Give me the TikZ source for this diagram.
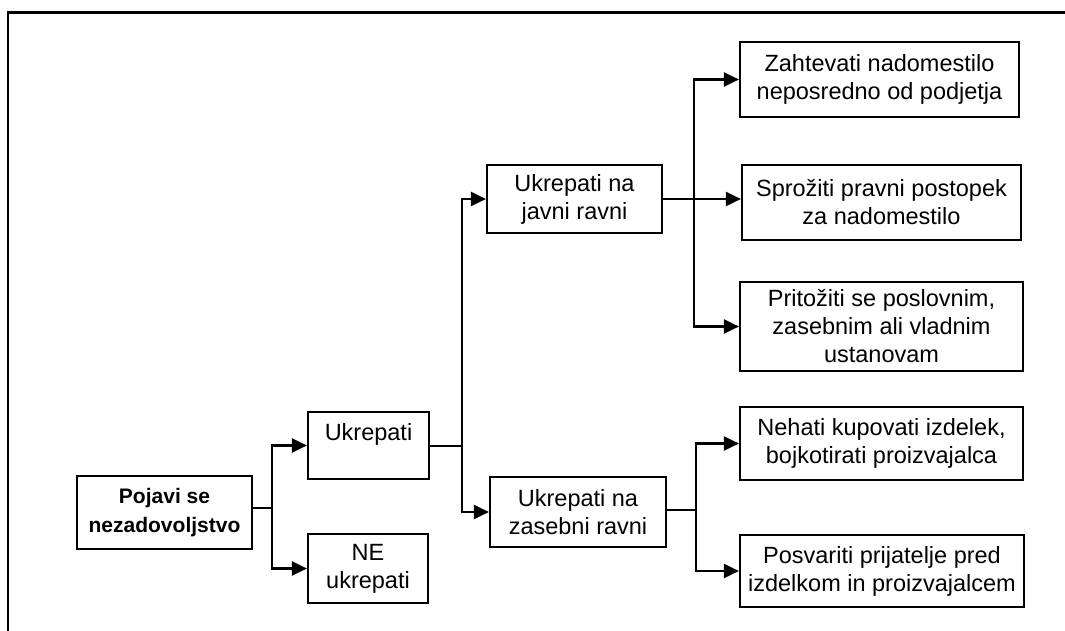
\documentclass[tikz,border=0pt]{standalone}
\usepackage{fontspec}
\setmainfont{Liberation Sans}
\usetikzlibrary{arrows.meta}
\begin{document}
\begin{tikzpicture}[x=1pt,y=-1pt,
  box/.style={draw=black, line width=2.2pt, rectangle, inner sep=0pt, align=center,
              font=\fontsize{23.5}{28}\selectfont},
  link/.style={line width=2.2pt},
  arr/.style={line width=2.2pt, -{Triangle[length=15pt,width=14pt]}}]
  % page frame: only top and left edges are ruled
  \useasboundingbox (0,0) rectangle (1065,631);
  \draw[line width=2.2pt] (8,631) -- (8,12.5) -- (1065,12.5);

  % first level
  \node[box, minimum width=175, minimum height=73, font=\fontsize{21}{29}\selectfont\bfseries]
    (pojavi) at (164.5,512.5) {Pojavi se\\nezadovoljstvo};
  \node[box, minimum width=121, minimum height=67] (ukr) at (368.5,445.5) {Ukrepati\\~};
  \node[box, minimum width=120, minimum height=69] (ne) at (368,568.5) {NE\\ukrepati};

  % second level
  \node[box, minimum width=175, minimum height=68] (javni) at (574.5,199) {Ukrepati na\\javni ravni};
  \node[box, minimum width=176, minimum height=70] (zas) at (578,512) {Ukrepati na\\zasebni ravni};

  % third level
  \node[box, minimum width=279, minimum height=75] (zaht) at (879.5,79.5)
    {Zahtevati nadomestilo\\neposredno od podjetja};
  \node[box, minimum width=279, minimum height=75] (spro) at (881.5,202.5)
    {Sprožiti pravni postopek\\za nadomestilo};
  \node[box, minimum width=283, minimum height=89] (prit) at (881.5,326.5)
    {Pritožiti se poslovnim,\\zasebnim ali vladnim\\ustanovam};
  \node[box, minimum width=283, minimum height=73] (neh) at (881.5,443.5)
    {Nehati kupovati izdelek,\\bojkotirati proizvajalca};
  \node[box, minimum width=284, minimum height=72] (posv) at (882,571)
    {Posvariti prijatelje pred\\izdelkom in proizvajalcem};

  % branching connectors
  \coordinate (t1) at (272,508);
  \draw[link] (pojavi.east |- t1) -- (t1);
  \draw[arr] (t1) |- (ukr.west);
  \draw[arr] (t1) |- (ne.west);

  \coordinate (t2) at (462,446);
  \draw[link] (ukr.east |- t2) -- (t2);
  \draw[arr] (t2) |- (javni.west);
  \draw[arr] (t2) |- (zas.west);

  \coordinate (t3) at (694,199);
  \draw[link] (javni.east) -- (t3);
  \draw[arr] (t3) |- (zaht.west);
  \draw[arr] (t3) -- (spro.west |- t3);
  \draw[arr] (t3) |- (prit.west);

  \coordinate (t4) at (696,510);
  \draw[link] (zas.east |- t4) -- (t4);
  \draw[arr] (t4) |- (neh.west);
  \draw[arr] (t4) |- (posv.west);
\end{tikzpicture}
\end{document}
